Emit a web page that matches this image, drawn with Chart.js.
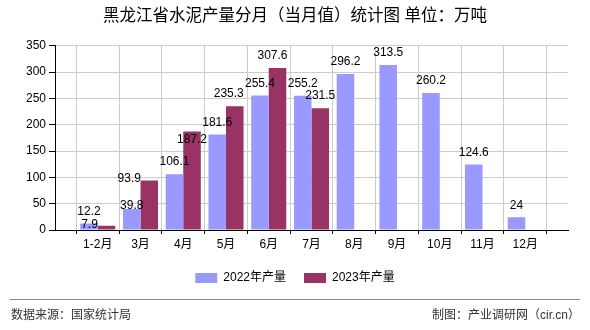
<!DOCTYPE html>
<html>
<head>
<meta charset="utf-8">
<script src="https://cdn.jsdelivr.net/npm/chart.js@4/dist/chart.umd.min.js"></script>
<style>
  html, body { margin: 0; padding: 0; background: #fff; }
  #wrap { width: 590px; height: 330px; position: relative; }
</style>
</head>
<body>
<div id="wrap"><canvas id="chart"></canvas></div>
<script>
// data
const categories = ['1-2月', '3月', '4月', '5月', '6月', '7月', '8月', '9月', '10月', '11月', '12月'];
const output2022 = [12.2, 39.8, 106.1, 181.6, 255.4, 255.2, 296.2, 313.5, 260.2, 124.6, 24];
const output2023 = [7.9, 93.9, 187.2, 235.3, 307.6, 231.5];
const yMax = 350;
const yStep = 50;

const FONT = "'Liberation Sans', 'Noto Sans CJK SC', sans-serif";

// empty slot before and after, the axis runs half a month past each end
function pad(arr) {
    const out = [null];
    for (let i = 0; i < categories.length; i++) {
        out.push(i < arr.length ? arr[i] : null);
    }
    out.push(null);
    return out;
}
const labels = [''].concat(categories, ['']);

// nudges for labels that collide in the original (dataset-category)
const labelNudge = {
    '1-0': [-17, 11],
    '1-1': [-20, 10],
    '0-1': [0, 9],
    '1-2': [0, 20],
    '1-3': [-6, 0],
    '1-4': [-5, 0]
};

const valueLabels = {
    id: 'valueLabels',
    afterDatasetsDraw(chart) {
        const ctx = chart.ctx;
        ctx.save();
        ctx.font = '12px ' + FONT;
        ctx.fillStyle = '#000';
        ctx.textAlign = 'center';
        ctx.textBaseline = 'middle';
        chart.data.datasets.forEach((ds, di) => {
            const meta = chart.getDatasetMeta(di);
            meta.data.forEach((bar, i) => {
                const v = ds.data[i];
                if (v === null || v === undefined) return;
                const n = labelNudge[di + '-' + (i - 1)] || [0, 0];
                ctx.fillText(String(v), bar.x + n[0], bar.y - 12 + n[1]);
            });
        });
        ctx.restore();
    }
};

const footer = {
    id: 'footer',
    afterDraw(chart) {
        const ctx = chart.ctx;
        ctx.save();
        ctx.strokeStyle = '#888';
        ctx.lineWidth = 1;
        ctx.beginPath();
        ctx.moveTo(10, 299.5);
        ctx.lineTo(580, 299.5);
        ctx.stroke();
        ctx.font = '12px ' + FONT;
        ctx.fillStyle = '#333';
        ctx.textBaseline = 'middle';
        ctx.textAlign = 'left';
        ctx.fillText('数据来源：国家统计局', 11, 316);
        ctx.textAlign = 'right';
        ctx.fillText('制图：产业调研网（cir.cn）', 580, 316);
        ctx.restore();
    }
};

new Chart(document.getElementById('chart').getContext('2d'), {
    type: 'bar',
    data: {
        labels: labels,
        datasets: [{
            label: '2022年产量',
            data: pad(output2022),
            backgroundColor: '#9999ff',
            borderWidth: 0,
            categoryPercentage: 0.82,
            barPercentage: 1
        }, {
            label: '2023年产量',
            data: pad(output2023),
            backgroundColor: '#993366',
            borderWidth: 0,
            categoryPercentage: 0.82,
            barPercentage: 1
        }]
    },
    options: {
        responsive: true,
        maintainAspectRatio: false,
        animation: false,
        layout: {
            padding: { top: 0, bottom: 36, left: 0, right: 0 }
        },
        plugins: {
            title: {
                display: true,
                text: '黑龙江省水泥产量分月（当月值）统计图 单位：万吨',
                color: '#000',
                font: { family: FONT, size: 16.5, weight: 'normal' },
                padding: { top: 7, bottom: 19 }
            },
            legend: {
                position: 'bottom',
                labels: {
                    boxWidth: 22,
                    boxHeight: 10,
                    padding: 18,
                    color: '#000',
                    font: { family: FONT, size: 12 }
                }
            },
            tooltip: { enabled: false }
        },
        scales: {
            x: {
                offset: false,
                grid: {
                    color: '#cccccc',
                    tickColor: '#000',
                    tickLength: 4
                },
                border: { color: '#000' },
                ticks: {
                    color: '#000',
                    font: { family: FONT, size: 12 },
                    maxRotation: 0,
                    autoSkip: false,
                    padding: 3
                },
                afterFit(scale) { scale.height = 24; }
            },
            y: {
                min: 0,
                max: yMax,
                grid: {
                    color: '#cccccc',
                    tickColor: '#000',
                    tickLength: 6
                },
                border: { color: '#000' },
                ticks: {
                    stepSize: yStep,
                    color: '#000',
                    font: { family: FONT, size: 12 },
                    padding: 3
                },
                afterFit(scale) { scale.width = 55; }
            },
            // empty right-hand axis, keeps the plot short of the right edge
            y2: {
                position: 'right',
                grid: { display: false },
                border: { display: false },
                ticks: { display: false },
                afterFit(scale) { scale.width = 22; }
            }
        }
    },
    plugins: [valueLabels, footer]
});
</script>
</body>
</html>
